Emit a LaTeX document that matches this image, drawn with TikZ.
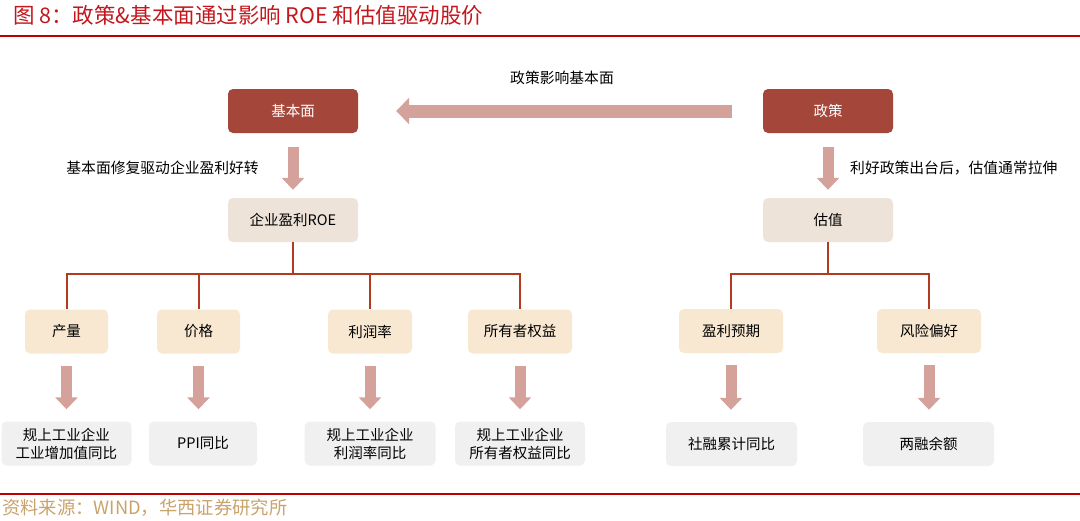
\documentclass[tikz,border=0pt]{standalone}
\usepackage{fontspec}
\newfontfamily\cjk{Noto Sans CJK SC}
\usetikzlibrary{arrows.meta}
\definecolor{titlered}{HTML}{C4161C}
\definecolor{linered}{HTML}{C00000}
\definecolor{darkbox}{HTML}{A4473A}
\definecolor{roebox}{HTML}{EEE3D9}
\definecolor{peach}{HTML}{F8E8D2}
\definecolor{greybox}{HTML}{F0F0F0}
\definecolor{arrowpink}{HTML}{D4A19B}
\definecolor{treered}{HTML}{B23A1E}
\definecolor{srcgold}{HTML}{C9A26C}
\begin{document}
\begin{tikzpicture}[x=1pt,y=-1pt,font=\cjk,
  box/.style={rounded corners=5pt,inner sep=0pt,align=center,font=\cjk\fontsize{14.5}{18}\selectfont},
  topbox/.style={box,fill=darkbox,text=white,minimum width=130pt,minimum height=44pt},
  midbox/.style={box,fill=roebox,minimum width=130pt,minimum height=44pt},
  lvtwo/.style={box,fill=peach,minimum height=44pt},
  lvthree/.style={box,fill=greybox,minimum height=44pt},
  vblock/.style={color=arrowpink,line width=11pt,-{Triangle[width=22pt,length=12pt]}},
  hblock/.style={color=arrowpink,line width=13pt,-{Triangle[width=26pt,length=13pt]}},
  tree/.style={draw=treered,line width=2pt},
  lbl/.style={inner sep=0pt,font=\cjk\fontsize{14.8}{16}\selectfont},
  rule/.style={draw=linered,line width=2pt}]
\useasboundingbox (0,0) rectangle (1080,520);
% title and rules
\node[anchor=west,inner sep=0pt,text=titlered,font=\cjk\fontsize{21.5}{24}\selectfont] (title) at (13,15) {图 8：政策\&基本面通过影响 ROE 和估值驱动股价};
\coordinate (r1a) at (0,36); \coordinate (r1b) at (1080,36);
\draw[rule] (r1a) -- (r1b);
\coordinate (r2a) at (0,494); \coordinate (r2b) at (1080,494);
\draw[rule] (r2a) -- (r2b);
\node[anchor=west,inner sep=0pt,text=srcgold,font=\cjk\fontsize{18.3}{20}\selectfont] (src) at (2,508) {资料来源：WIND，华西证券研究所};
% top level
\node[topbox] (jbm) at (293,111) {基本面};
\node[topbox] (zc) at (828,111) {政策};
\node[midbox] (roe) at (293,220) {企业盈利ROE};
\node[midbox] (gz) at (828,220) {估值};
\draw[hblock,shorten <=31pt,shorten >=38pt] (zc.west) -- (jbm.east);
\node[lbl] (l1) at (562,78) {政策影响基本面};
\draw[vblock,shorten <=14pt,shorten >=8pt] (jbm.south) -- (roe.north);
\draw[vblock,shorten <=14pt,shorten >=8pt] (zc.south) -- (gz.north);
\node[lbl,anchor=east] (l2) at (259,168) {基本面修复驱动企业盈利好转};
\node[lbl,anchor=west] (l3) at (850,168) {利好政策出台后，估值通常拉伸};
% level two
\node[lvtwo,minimum width=83pt] (cl) at (66.5,331.5) {产量};
\node[lvtwo,minimum width=83pt] (jg) at (198.5,331.5) {价格};
\node[lvtwo,minimum width=84pt] (lrl) at (370,331.5) {利润率};
\node[lvtwo,minimum width=104pt] (syz) at (520,331.5) {所有者权益};
\node[lvtwo,minimum width=104pt] (ylyq) at (731,331) {盈利预期};
\node[lvtwo,minimum width=104pt] (fxph) at (929,331) {风险偏好};
% tree connectors
\draw[tree] (roe.south) -- ++(0,32) -| (cl.north);
\draw[tree] (roe.south) -- ++(0,32) -| (jg.north);
\draw[tree] (roe.south) -- ++(0,32) -| (lrl.north);
\draw[tree] (roe.south) -- ++(0,32) -| (syz.north);
\draw[tree] (gz.south) -- ++(0,32) -| (ylyq.north);
\draw[tree] (gz.south) -- ++(0,32) -| (fxph.north);
% level three
\node[lvthree,minimum width=130pt] (a3) at (66.5,443.5) {规上工业企业\\工业增加值同比};
\node[lvthree,minimum width=108pt] (ppi) at (203,443.5) {PPI同比};
\node[lvthree,minimum width=131pt] (c3) at (370,443.5) {规上工业企业\\利润率同比};
\node[lvthree,minimum width=130pt] (d3) at (520,443.5) {规上工业企业\\所有者权益同比};
\node[lvthree,minimum width=131pt] (e3) at (731.5,444) {社融累计同比};
\node[lvthree,minimum width=131pt] (f3) at (928.5,444) {两融余额};
% lower arrows
\draw[vblock,shorten <=12pt,shorten >=12pt] (cl.south) -- (cl.south |- a3.north);
\draw[vblock,shorten <=12pt,shorten >=12pt] (jg.south) -- (jg.south |- ppi.north);
\draw[vblock,shorten <=12pt,shorten >=12pt] (lrl.south) -- (lrl.south |- c3.north);
\draw[vblock,shorten <=12pt,shorten >=12pt] (syz.south) -- (syz.south |- d3.north);
\draw[vblock,shorten <=12pt,shorten >=12pt] (ylyq.south) -- (ylyq.south |- e3.north);
\draw[vblock,shorten <=12pt,shorten >=12pt] (fxph.south) -- (fxph.south |- f3.north);
\end{tikzpicture}
\end{document}
